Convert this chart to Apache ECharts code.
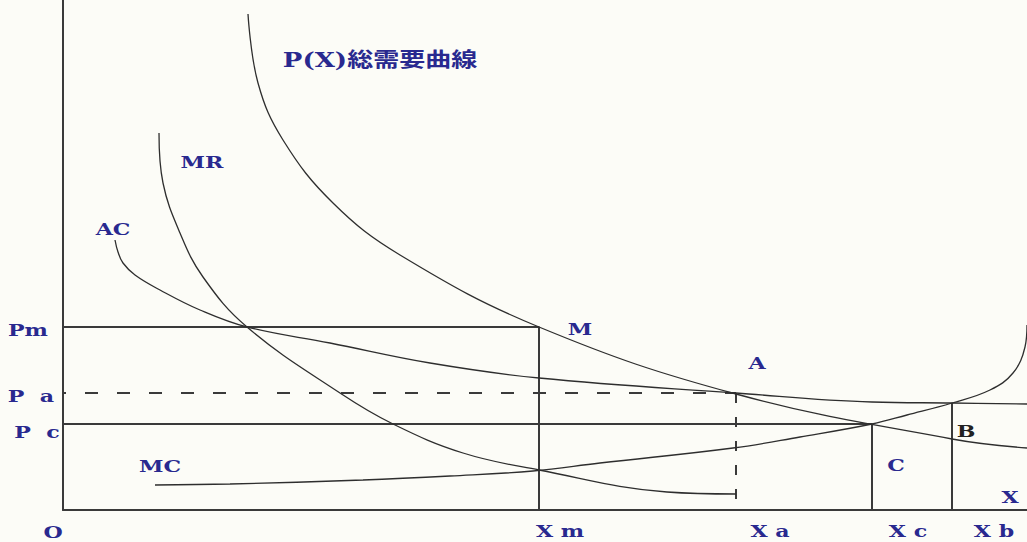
<!DOCTYPE html>
<html>
<head>
<meta charset="utf-8">
<script src="https://cdn.jsdelivr.net/npm/echarts@6/dist/echarts.min.js"></script>
<style>
  html, body { margin: 0; padding: 0; background: #fcfcf7; }
  #main { width: 1027px; height: 542px; }
</style>
</head>
<body>
<div id="main"></div>
<script>
// curves (x = quantity, y = price, arbitrary units)
var demandCurve = [[185,496],[195,427],[220,370],[270,307],[337,255],[476,183],[673,116],[889,71],[964,62]];
var mrCurve = [[96,377],[100,327],[117,277],[140,233],[184,183],[277,117],[330,86],[400,57],[476,40],[604,18],[673,16]];
var acCurve = [[52,270],[55,258],[60,247],[72,235],[97,220],[137,200],[184,183],[267,167],[367,147],[476,132],[673,117],[809,108],[889,107],[964,106]];
var mcCurve = [[92,25],[167,26],[300,30],[387,34],[470,39],[537,47],[670,62],[737,73],[809,86],[844,95],[889,107],[927,120],[950,137],[962,163],[964,185]];

// key levels
var Pm = 183, Pa = 117, Pc = 86;
var Xm = 476, Xa = 673, Xc = 809, Xb = 889, PbTop = 107, XaBottom = 10;

// text labels and where they sit
var labelNames = ['P(X)総需要曲線', 'MR', 'AC', 'Pm', 'P\u00a0\u00a0a', 'P\u00a0\u00a0c', 'MC', 'O', 'M', 'A', 'C', 'B', 'X', 'X m', 'X a', 'X c', 'X b'];
var labelX = [317, 139, 50, -35, -32, -26, 97, -10, 517, 694, 833, 903, 947, 497, 707, 845, 931];
var labelY = [450, 348, 281, 180, 114, 78, 44, -22, 181, 147, 45, 79, 13, -21, -21, -21, -21];

var curveStyle = { color: '#2e2e2e', width: 1.3 };
var refColor = '#3a3a3a';

function curve(data) {
  return { type: 'line', data: data, smooth: 0.4, showSymbol: false, clip: false,
           lineStyle: curveStyle, silent: true };
}
function segment(data, dash, offset) {
  return { type: 'line', data: data, showSymbol: false, clip: false, silent: true,
           lineStyle: { color: refColor, width: 2, type: dash || 'solid', dashOffset: offset || 0 } };
}

var myChart = echarts.init(document.getElementById('main'), null, { renderer: 'svg' });
var option = {
  backgroundColor: '#fcfcf7',
  animation: false,
  grid: { left: 63, right: 0, top: 0, bottom: 32 },
  xAxis: {
    type: 'value', min: 0, max: 964,
    axisLine: { show: true, lineStyle: { color: refColor, width: 2 } },
    axisTick: { show: false }, axisLabel: { show: false }, splitLine: { show: false }
  },
  yAxis: {
    type: 'value', min: 0, max: 510,
    axisLine: { show: true, lineStyle: { color: refColor, width: 2 } },
    axisTick: { show: false }, axisLabel: { show: false }, splitLine: { show: false }
  },
  series: [
    segment([[0, Pm], [Xm, Pm], [Xm, 0]]),
    segment([[0, Pc], [Xc, Pc], [Xc, 0]]),
    segment([[Xb, PbTop], [Xb, 0]]),
    segment([[0, Pa], [Xa, Pa]], [13, 19], 10),
    segment([[Xa, Pa], [Xa, XaBottom]], [10, 14]),
    curve(demandCurve),
    curve(mrCurve),
    curve(acCurve),
    curve(mcCurve)
  ]
};
myChart.setOption(option);

// labels: the original lettering is wide, so stretch it a bit
var texts = [];
labelNames.forEach(function (name, i) {
  var p = myChart.convertToPixel({ gridIndex: 0 }, [labelX[i], labelY[i]]);
  var isTitle = i === 0;
  texts.push({
    type: 'text', x: p[0], y: p[1], scaleX: 1.3, silent: true,
    style: {
      text: name,
      fill: name === 'B' ? '#222222' : '#29298f',
      font: 'bold ' + (isTitle ? 20 : 17) + 'px "DejaVu Serif", "Noto Sans CJK JP"',
      textAlign: 'center', textVerticalAlign: 'middle',
      align: 'center', verticalAlign: 'middle'
    }
  });
});
myChart.setOption({ graphic: texts });
</script>
</body>
</html>
